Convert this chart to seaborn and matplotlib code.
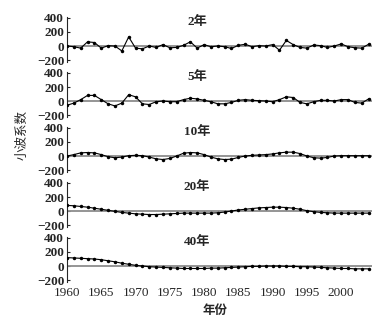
import numpy as np
import pandas as pd
import matplotlib
matplotlib.use("Agg")
import matplotlib.pyplot as plt
import seaborn as sns

# wavelet coefficients, one value per year 1960-2004
years = list(range(1960, 2005))

scale_labels = ["2年", "5年", "10年", "20年", "40年"]

coef_2 = [0, -10, -30, 60, 50, -30, 5, 0, -70, 130, -30, -40, 0, -20, 20, -25, -20, 10, 60, -30,
          20, -10, 0, -10, -35, 10, 25, -10, 5, 0, 20, -60, 80, 20, -20, -30, 15, 5, -20, 0,
          30, -10, -25, -30, 25]
coef_5 = [-60, -30, 20, 80, 80, 20, -40, -70, -30, 90, 60, -40, -50, -10, 0, -10, -10, 20, 40, 30,
          10, -10, -40, -40, -20, 10, 20, 10, 5, 0, -10, 20, 60, 50, -20, -40, -10, 10, 10, 0,
          20, 20, -20, -30, 30]
coef_10 = [0, 20, 45, 50, 45, 20, -10, -25, -15, 5, 10, 5, -15, -40, -50, -35, 0, 40, 50, 45,
           20, -15, -40, -50, -45, -20, 0, 10, 15, 20, 30, 45, 55, 55, 35, 0, -25, -30, -20, 0,
           5, 5, 5, 5, 5]
coef_20 = [80, 75, 65, 55, 40, 25, 10, -5, -20, -30, -40, -45, -50, -50, -45, -40, -35, -30, -30, -30,
           -30, -30, -25, -15, 0, 15, 25, 35, 45, 50, 55, 55, 50, 40, 25, 5, -10, -20, -25, -30,
           -30, -30, -30, -30, -30]
coef_40 = [120, 115, 110, 105, 100, 90, 75, 60, 40, 25, 10, 0, -10, -15, -20, -25, -30, -35, -35, -35,
           -35, -30, -30, -25, -20, -15, -10, -5, -5, 0, 0, 0, -5, -5, -10, -10, -15, -20, -25, -30,
           -35, -35, -40, -40, -40]

series = [coef_2, coef_5, coef_10, coef_20, coef_40]
yticks = [-200, 0, 200, 400]
xticks = [1960, 1965, 1970, 1975, 1980, 1985, 1990, 1995, 2000]

sns.set_style("ticks")
serif = ["Liberation Serif", "Noto Sans CJK SC"]
plt.rcParams["font.family"] = serif

W, H = 380, 326
fig = plt.figure(figsize=(W / 100, H / 100), dpi=100)

left, right = 67 / W, 372 / W
for k, (lab, vals) in enumerate(zip(scale_labels, series)):
    top_px = 17 + 55 * k
    ax = fig.add_axes([left, 1 - (top_px + 45) / H, right - left, 45 / H])
    df = pd.DataFrame({"year": years, "coef": vals})
    ax.axhline(0, color="#8c8c8c", lw=1.3, zorder=1)
    sns.lineplot(data=df, x="year", y="coef", ax=ax, color="black", lw=0.8,
                 marker="o", markersize=2.5, markeredgewidth=0, zorder=3)
    ax.set_xlim(1960, 2004.5)
    ax.set_ylim(-228, 414)
    ax.set_yticks(yticks)
    ax.set_yticklabels(["\u2212200", "0", "200", "400"], fontsize=9.5, fontweight="bold")
    ax.tick_params(axis="y", direction="in", length=2, width=0.8, pad=2)
    for s in ["top", "right", "bottom"]:
        ax.spines[s].set_visible(False)
    ax.spines["left"].set_linewidth(0.8)
    ax.set_xticks(xticks)
    ax.tick_params(axis="x", length=0, pad=3.5)
    if k < 4:
        ax.set_xticklabels([])
    else:
        ax.set_xticklabels([str(t) for t in xticks], fontsize=9.5)
    ax.set_xlabel("")
    ax.set_ylabel("")
    ax.text(1979, 350, lab, ha="center", va="center", fontsize=9.5,
            fontweight="bold", family=serif)

fig.text(215 / W, 1 - 310 / H, "年份", ha="center", va="center", fontsize=9,
         fontweight="bold", family=["Noto Sans CJK SC"])
fig.text(22 / W, 1 - 135 / H, "小波系数", ha="center", va="center", rotation=90,
         fontsize=9, family=["Noto Sans CJK SC"])

fig.savefig("out.png", dpi=100)
